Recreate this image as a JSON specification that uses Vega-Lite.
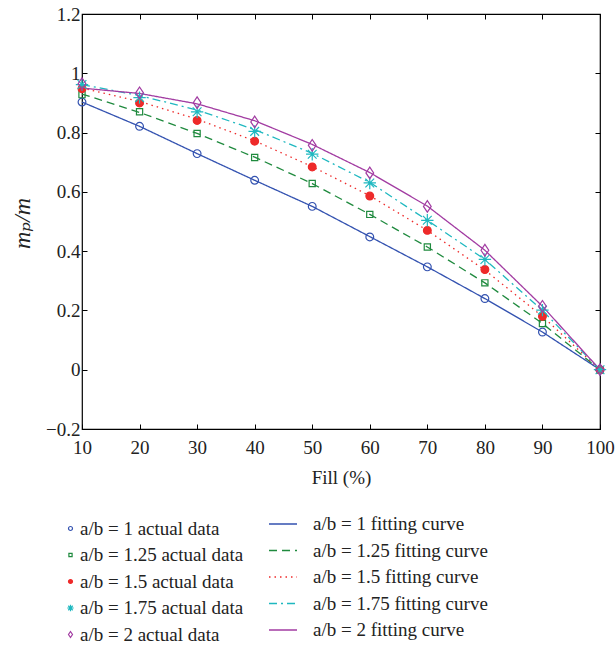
{
"$schema": "https://vega.github.io/schema/vega-lite/v6.json",
"width": 518, "height": 415,
"autosize": "none",
"padding": {"left": 82, "top": 14, "right": 15, "bottom": 216},
"background": "white",
"config": {
  "view": {"stroke": "black", "strokeWidth": 1.2},
  "font": "Liberation Serif, DejaVu Serif, serif",
  "axis": {"grid": false, "domain": false, "tickColor": "black", "tickSize": -5, "labelFlush": false, "labelOverlap": false, "labelFont": "Liberation Serif, DejaVu Serif, serif", "labelFontSize": 19, "labelColor": "#222", "titleFont": "Liberation Serif, DejaVu Serif, serif", "titleFontWeight": "normal", "titleColor": "#222"},
  "legend": {"labelFont": "Liberation Serif, DejaVu Serif, serif", "labelFontSize": 19, "labelColor": "#222", "labelLimit": 400, "padding": 0, "orient": "none"}
},
"data": {"values": [
{"fill":10,"pts":"a/b = 1 actual data","crv":"a/b = 1 fitting curve","actual":0.903,"fit":0.903},
{"fill":20,"pts":"a/b = 1 actual data","crv":"a/b = 1 fitting curve","actual":0.821,"fit":0.821},
{"fill":30,"pts":"a/b = 1 actual data","crv":"a/b = 1 fitting curve","actual":0.729,"fit":0.729},
{"fill":40,"pts":"a/b = 1 actual data","crv":"a/b = 1 fitting curve","actual":0.639,"fit":0.639},
{"fill":50,"pts":"a/b = 1 actual data","crv":"a/b = 1 fitting curve","actual":0.551,"fit":0.551},
{"fill":60,"pts":"a/b = 1 actual data","crv":"a/b = 1 fitting curve","actual":0.448,"fit":0.449},
{"fill":70,"pts":"a/b = 1 actual data","crv":"a/b = 1 fitting curve","actual":0.347,"fit":0.347},
{"fill":80,"pts":"a/b = 1 actual data","crv":"a/b = 1 fitting curve","actual":0.240,"fit":0.240},
{"fill":90,"pts":"a/b = 1 actual data","crv":"a/b = 1 fitting curve","actual":0.127,"fit":0.127},
{"fill":100,"pts":"a/b = 1 actual data","crv":"a/b = 1 fitting curve","actual":0,"fit":0},
{"fill":10,"pts":"a/b = 1.25 actual data","crv":"a/b = 1.25 fitting curve","actual":0.928,"fit":0.930},
{"fill":20,"pts":"a/b = 1.25 actual data","crv":"a/b = 1.25 fitting curve","actual":0.870,"fit":0.868},
{"fill":30,"pts":"a/b = 1.25 actual data","crv":"a/b = 1.25 fitting curve","actual":0.797,"fit":0.797},
{"fill":40,"pts":"a/b = 1.25 actual data","crv":"a/b = 1.25 fitting curve","actual":0.716,"fit":0.717},
{"fill":50,"pts":"a/b = 1.25 actual data","crv":"a/b = 1.25 fitting curve","actual":0.628,"fit":0.628},
{"fill":60,"pts":"a/b = 1.25 actual data","crv":"a/b = 1.25 fitting curve","actual":0.524,"fit":0.524},
{"fill":70,"pts":"a/b = 1.25 actual data","crv":"a/b = 1.25 fitting curve","actual":0.414,"fit":0.414},
{"fill":80,"pts":"a/b = 1.25 actual data","crv":"a/b = 1.25 fitting curve","actual":0.293,"fit":0.293},
{"fill":90,"pts":"a/b = 1.25 actual data","crv":"a/b = 1.25 fitting curve","actual":0.156,"fit":0.156},
{"fill":100,"pts":"a/b = 1.25 actual data","crv":"a/b = 1.25 fitting curve","actual":0,"fit":0},
{"fill":10,"pts":"a/b = 1.5 actual data","crv":"a/b = 1.5 fitting curve","actual":0.948,"fit":0.950},
{"fill":20,"pts":"a/b = 1.5 actual data","crv":"a/b = 1.5 fitting curve","actual":0.900,"fit":0.905},
{"fill":30,"pts":"a/b = 1.5 actual data","crv":"a/b = 1.5 fitting curve","actual":0.841,"fit":0.845},
{"fill":40,"pts":"a/b = 1.5 actual data","crv":"a/b = 1.5 fitting curve","actual":0.771,"fit":0.772},
{"fill":50,"pts":"a/b = 1.5 actual data","crv":"a/b = 1.5 fitting curve","actual":0.684,"fit":0.685},
{"fill":60,"pts":"a/b = 1.5 actual data","crv":"a/b = 1.5 fitting curve","actual":0.586,"fit":0.587},
{"fill":70,"pts":"a/b = 1.5 actual data","crv":"a/b = 1.5 fitting curve","actual":0.470,"fit":0.470},
{"fill":80,"pts":"a/b = 1.5 actual data","crv":"a/b = 1.5 fitting curve","actual":0.338,"fit":0.336},
{"fill":90,"pts":"a/b = 1.5 actual data","crv":"a/b = 1.5 fitting curve","actual":0.180,"fit":0.180},
{"fill":100,"pts":"a/b = 1.5 actual data","crv":"a/b = 1.5 fitting curve","actual":0,"fit":0},
{"fill":10,"pts":"a/b = 1.75 actual data","crv":"a/b = 1.75 fitting curve","actual":0.962,"fit":0.962},
{"fill":20,"pts":"a/b = 1.75 actual data","crv":"a/b = 1.75 fitting curve","actual":0.918,"fit":0.925},
{"fill":30,"pts":"a/b = 1.75 actual data","crv":"a/b = 1.75 fitting curve","actual":0.870,"fit":0.876},
{"fill":40,"pts":"a/b = 1.75 actual data","crv":"a/b = 1.75 fitting curve","actual":0.804,"fit":0.810},
{"fill":50,"pts":"a/b = 1.75 actual data","crv":"a/b = 1.75 fitting curve","actual":0.727,"fit":0.730},
{"fill":60,"pts":"a/b = 1.75 actual data","crv":"a/b = 1.75 fitting curve","actual":0.630,"fit":0.632},
{"fill":70,"pts":"a/b = 1.75 actual data","crv":"a/b = 1.75 fitting curve","actual":0.504,"fit":0.504},
{"fill":80,"pts":"a/b = 1.75 actual data","crv":"a/b = 1.75 fitting curve","actual":0.372,"fit":0.372},
{"fill":90,"pts":"a/b = 1.75 actual data","crv":"a/b = 1.75 fitting curve","actual":0.201,"fit":0.200},
{"fill":100,"pts":"a/b = 1.75 actual data","crv":"a/b = 1.75 fitting curve","actual":0,"fit":0},
{"fill":10,"pts":"a/b = 2 actual data","crv":"a/b = 2 fitting curve","actual":0.965,"fit":0.950},
{"fill":20,"pts":"a/b = 2 actual data","crv":"a/b = 2 fitting curve","actual":0.934,"fit":0.932},
{"fill":30,"pts":"a/b = 2 actual data","crv":"a/b = 2 fitting curve","actual":0.901,"fit":0.897},
{"fill":40,"pts":"a/b = 2 actual data","crv":"a/b = 2 fitting curve","actual":0.836,"fit":0.840},
{"fill":50,"pts":"a/b = 2 actual data","crv":"a/b = 2 fitting curve","actual":0.757,"fit":0.760},
{"fill":60,"pts":"a/b = 2 actual data","crv":"a/b = 2 fitting curve","actual":0.664,"fit":0.665},
{"fill":70,"pts":"a/b = 2 actual data","crv":"a/b = 2 fitting curve","actual":0.551,"fit":0.552},
{"fill":80,"pts":"a/b = 2 actual data","crv":"a/b = 2 fitting curve","actual":0.403,"fit":0.403},
{"fill":90,"pts":"a/b = 2 actual data","crv":"a/b = 2 fitting curve","actual":0.214,"fit":0.214},
{"fill":100,"pts":"a/b = 2 actual data","crv":"a/b = 2 fitting curve","actual":0,"fit":0}
]},
"layer": [
 {"mark": {"type": "line", "strokeWidth": 1.3},
  "encoding": {
   "x": {"field": "fill", "type": "quantitative", "scale": {"domain": [10, 100], "nice": false}, "axis": {"orient": "top", "labels": false, "title": null, "values": [10,20,30,40,50,60,70,80,90,100]}},
   "y": {"field": "fit", "type": "quantitative", "scale": {"domain": [-0.2, 1.2], "nice": false}, "axis": {"orient": "right", "labels": false, "title": null, "values": [-0.2,0,0.2,0.4,0.6,0.8,1,1.2]}},
   "stroke": {"field": "crv", "type": "nominal", "scale": {"domain": ["a/b = 1 fitting curve","a/b = 1.25 fitting curve","a/b = 1.5 fitting curve","a/b = 1.75 fitting curve","a/b = 2 fitting curve"], "range": ["#3352b0","#1f8a3e","#ee2a2a","#1fb8c0","#a23ca2"]},
     "legend": {"title": null, "orient": "none", "legendX": 186, "legendY": 495, "symbolType": "stroke", "symbolSize": 784, "symbolStrokeWidth": 1.3, "rowPadding": 1.5, "labelOffset": 15}},
   "strokeDash": {"field": "crv", "type": "nominal", "scale": {"domain": ["a/b = 1 fitting curve","a/b = 1.25 fitting curve","a/b = 1.5 fitting curve","a/b = 1.75 fitting curve","a/b = 2 fitting curve"], "range": [[1,0],[8,5],[1.5,4],[8,4,2,4],[1,0]]},
     "legend": {"title": null, "orient": "none", "legendX": 186, "legendY": 495, "symbolType": "stroke", "symbolSize": 784, "symbolStrokeWidth": 1.3, "rowPadding": 1.5, "labelOffset": 15}}
  }},
 {"mark": {"type": "point", "strokeWidth": 1.2, "opacity": 1, "size": 60},
  "encoding": {
   "x": {"field": "fill", "type": "quantitative", "scale": {"domain": [10, 100], "nice": false}, "axis": {"orient": "bottom", "title": "Fill (%)", "titleFontSize": 19, "titleY": 48, "titleBaseline": "middle", "labelPadding": 14, "values": [10,20,30,40,50,60,70,80,90,100]}},
   "y": {"field": "actual", "type": "quantitative", "scale": {"domain": [-0.2, 1.2], "nice": false}, "axis": {"orient": "left", "title": "mₚ/m", "titleFontStyle": "italic", "titleFontSize": 24, "titleX": -60, "titleY": 209, "titleAngle": -90, "titleBaseline": "middle", "titleAlign": "center", "format": "~g", "labelPadding": 7, "values": [-0.2,0,0.2,0.4,0.6,0.8,1,1.2]}},
   "color": {"field": "pts", "type": "nominal", "scale": {"domain": ["a/b = 1 actual data","a/b = 1.25 actual data","a/b = 1.5 actual data","a/b = 1.75 actual data","a/b = 2 actual data"], "range": ["#3352b0","#1f8a3e","#ee2a2a","#1fb8c0","#a23ca2"]},
     "legend": {"title": null, "orient": "none", "legendX": -21, "legendY": 505, "symbolSize": 16, "symbolStrokeWidth": 1.2, "rowPadding": 6.5, "labelOffset": 0}},
   "shape": {"field": "pts", "type": "nominal", "scale": {"domain": ["a/b = 1 actual data","a/b = 1.25 actual data","a/b = 1.5 actual data","a/b = 1.75 actual data","a/b = 2 actual data"], "range": ["circle","M-0.8,-0.8L0.8,-0.8L0.8,0.8L-0.8,0.8Z","circle","M-1.6,0L1.6,0M0,-1.6L0,1.6M-1.13,-1.13L1.13,1.13M-1.13,1.13L1.13,-1.13","M0,-1.5L1,0L0,1.5L-1,0Z"]},
     "legend": {"title": null, "orient": "none", "legendX": -21, "legendY": 505, "symbolSize": 16, "symbolStrokeWidth": 1.2, "rowPadding": 6.5, "labelOffset": 0}},
   "fill": {"field": "pts", "type": "nominal", "scale": {"domain": ["a/b = 1 actual data","a/b = 1.25 actual data","a/b = 1.5 actual data","a/b = 1.75 actual data","a/b = 2 actual data"], "range": ["transparent","transparent","#ee2a2a","transparent","transparent"]},
     "legend": {"title": null, "orient": "none", "legendX": -21, "legendY": 505, "symbolSize": 16, "symbolStrokeWidth": 1.2, "rowPadding": 6.5, "labelOffset": 0}}
  }}
],
"resolve": {"axis": {"x": "independent", "y": "independent"}}
}
